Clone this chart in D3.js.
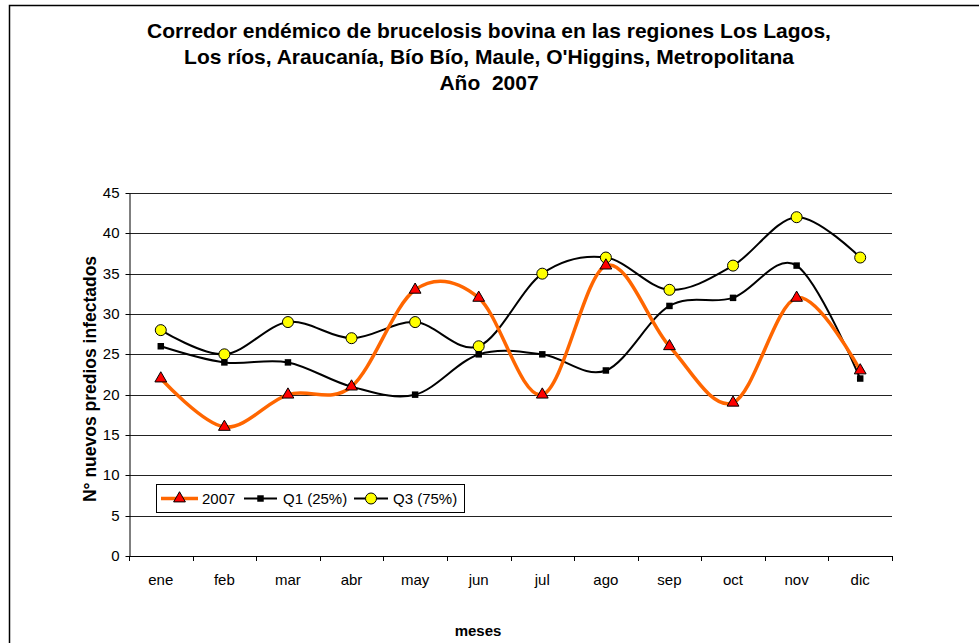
<!DOCTYPE html>
<html>
<head>
<meta charset="utf-8">
<script src="https://cdn.jsdelivr.net/npm/d3@7"></script>
<style>
  body { margin: 0; background: #fff; }
  svg { display: block; font-family: Arial, "Liberation Sans", sans-serif; }
</style>
</head>
<body>
<svg id="chart" width="979" height="643"></svg>
<script>
const MONTHS = ["ene","feb","mar","abr","may","jun","jul","ago","sep","oct","nov","dic"]
const Y2007 = [22,16,20,21,33,32,20,36,26,19,32,23]
const Q1 = [26,24,24,21,20,25,25,23,31,32,36,22]
const Q3 = [28,25,29,27,29,26,35,37,33,36,42,37]
const YTICKS = [0,5,10,15,20,25,30,35,40,45]
const TITLE = ["Corredor endémico de brucelosis bovina en las regiones Los Lagos,",
  "Los ríos, Araucanía, Bío Bío, Maule, O'Higgins, Metropolitana",
  "Año  2007"]

let svg = d3.select("#chart")

//outer frame (only top and left visible)
svg.append("path").attr("d","M9.5,643V5.5H979").attr("fill","none").attr("stroke","#000").attr("stroke-width",1.5)

let plot = {x0:129, x1:892, y0:193, y1:556}
let x = d3.scaleBand().domain(MONTHS).range([plot.x0, plot.x1])
let y = d3.scaleLinear().domain([0,45]).range([plot.y1, plot.y0])

//title
svg.append("g").selectAll("text").data(TITLE).enter().append("text")
  .attr("x", 489).attr("y", (d,i) => 38 + i*26)
  .attr("text-anchor","middle").attr("font-weight","bold").attr("font-size",21)
  .style("white-space","pre")
  .text(d => d)

//gridlines
svg.append("g").selectAll("line").data(YTICKS.slice(1)).enter().append("line")
  .attr("x1",plot.x0).attr("x2",plot.x1)
  .attr("y1",d => Math.round(y(d))+0.5).attr("y2",d => Math.round(y(d))+0.5)
  .attr("stroke","#222").attr("stroke-width",1)

//y axis
let yAx = svg.append("g").attr("transform",`translate(${plot.x0+0.5},0)`)
  .call(d3.axisLeft(y).tickValues(YTICKS).tickSize(4).tickPadding(6).tickSizeOuter(0))
yAx.select(".domain").attr("stroke","#000")
yAx.selectAll(".tick line").attr("stroke","#000")
yAx.selectAll("text").attr("font-size",15).attr("fill","#000").attr("font-family","Arial, 'Liberation Sans', sans-serif")
yAx.selectAll(".tick").attr("transform", d => `translate(0,${Math.round(y(d))+0.5})`)

//x axis with ticks at band boundaries
let xg = svg.append("g")
xg.append("line").attr("x1",plot.x0).attr("x2",plot.x1+0.5)
  .attr("y1",Math.round(plot.y1)+0.5).attr("y2",Math.round(plot.y1)+0.5).attr("stroke","#000")
let bounds = MONTHS.map(m => x(m)).concat([plot.x1])
xg.selectAll(".xt").data(bounds).enter().append("line").attr("class","xt")
  .attr("x1",d => Math.round(d)+0.5).attr("x2",d => Math.round(d)+0.5)
  .attr("y1",plot.y1).attr("y2",plot.y1+5).attr("stroke","#000")
xg.selectAll("text").data(MONTHS).enter().append("text")
  .attr("x",d => x(d)+x.bandwidth()/2).attr("y",585)
  .attr("text-anchor","middle").attr("font-size",15).text(d => d)

//axis titles
svg.append("text").attr("x",478).attr("y",636).attr("text-anchor","middle")
  .attr("font-weight","bold").attr("font-size",15).text("meses")
svg.append("text").attr("transform","translate(96,379) rotate(-90)").attr("text-anchor","middle")
  .attr("font-weight","bold").attr("font-size",17.5).text("N° nuevos predios infectados")

let cx = (d,i) => x(MONTHS[i]) + x.bandwidth()/2
let line = d3.line().x(cx).y(d => y(d)).curve(d3.curveCardinal.tension(0))

let series = [
  {name:"Q3 (75%)", vals:Q3, color:"#000", width:2, mark:"circle"},
  {name:"Q1 (25%)", vals:Q1, color:"#000", width:2, mark:"square"},
  {name:"2007", vals:Y2007, color:"#FF6600", width:3.5, mark:"triangle"},
]

let sym = {
  circle: {type:d3.symbolCircle, size:95, fill:"#FFFF00", stroke:"#000"},
  square: {type:d3.symbolSquare, size:42, fill:"#000", stroke:"none"},
  triangle: {type:d3.symbolTriangle, size:60, fill:"#FF0000", stroke:"#000"},
}

let drawMark = (g, m, px, py) => {
  let s = sym[m]
  g.append("path").attr("d", d3.symbol().type(s.type).size(s.size)())
    .attr("transform",`translate(${px},${py})`)
    .attr("fill",s.fill).attr("stroke",s.stroke).attr("stroke-width",1)
}

let gLines = svg.append("g")
series.forEach(s => {
  gLines.append("path").datum(s.vals).attr("d",line)
    .attr("fill","none").attr("stroke",s.color).attr("stroke-width",s.width)
})
let gMarks = svg.append("g")
series.forEach(s => {
  s.vals.forEach((v,i) => drawMark(gMarks, s.mark, cx(v,i), y(v)))
})

//legend
let lg = svg.append("g")
lg.append("rect").attr("x",156.5).attr("y",484.5).attr("width",308).attr("height",28)
  .attr("fill","#fff").attr("stroke","#000")
let legendItems = [
  {s:series[2], x0:161, x1:198, tx:202},
  {s:series[1], x0:244, x1:277, tx:283},
  {s:series[0], x0:354, x1:388, tx:393},
]
legendItems.forEach(it => {
  lg.append("line").attr("x1",it.x0).attr("x2",it.x1).attr("y1",498.5).attr("y2",498.5)
    .attr("stroke",it.s.color).attr("stroke-width",it.s.width)
  drawMark(lg, it.s.mark, (it.x0+it.x1)/2, 498.5)
  lg.append("text").attr("x",it.tx).attr("y",504).attr("font-size",15).text(it.s.name)
})
</script>
</body>
</html>
